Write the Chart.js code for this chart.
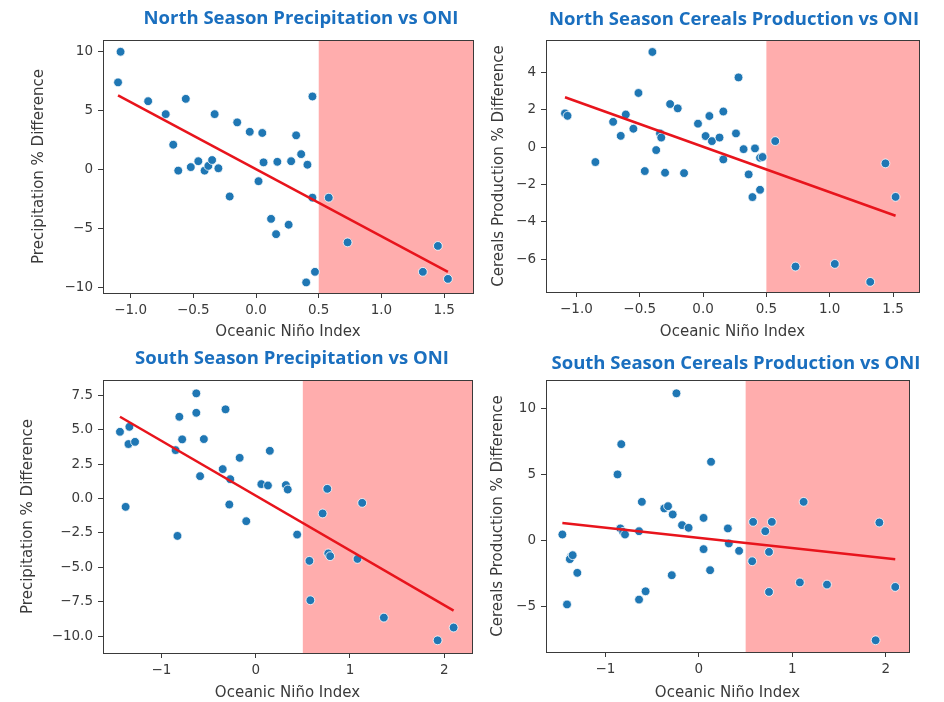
<!DOCTYPE html>
<html>
<head>
<meta charset="utf-8">
<script src="https://cdn.jsdelivr.net/npm/chart.js@4"></script>
<style>
  html, body { margin: 0; padding: 0; background: #ffffff; }
  #wrap { position: relative; width: 944px; height: 702px; overflow: hidden; background: #fff; }
  canvas.panel { position: absolute; left: 0; top: 0; }
  .ttl { position: absolute; transform: translate(-50%, -50%); white-space: nowrap;
         font-family: "Open Sans", sans-serif; font-weight: 700; font-size: 18.5px; color: #1a6fbf; }
</style>
</head>
<body>
<div id="wrap">
  <canvas id="c1" class="panel" width="944" height="702"></canvas>
  <canvas id="c2" class="panel" width="944" height="702"></canvas>
  <canvas id="c3" class="panel" width="944" height="702"></canvas>
  <canvas id="c4" class="panel" width="944" height="702"></canvas>
  <div class="ttl" style="left:301px; top:16px;">North Season Precipitation vs ONI</div>
  <div class="ttl" style="left:734px; top:17px;">North Season Cereals Production vs ONI</div>
  <div class="ttl" style="left:292px; top:356px;">South Season Precipitation vs ONI</div>
  <div class="ttl" style="left:736px; top:361px;">South Season Cereals Production vs ONI</div>
</div>
<script>
// ---------------- DATA ----------------
const oniThreshold = 0.5;
const xAxisLabel = "Oceanic Niño Index";

// North season precipitation
const northPrecipOni = [-1.08, -1.10, -0.86, -0.72, -0.56, -0.66, -0.62, -0.52, -0.46, -0.41, -0.38, -0.35, -0.30, -0.33, -0.21, -0.15, -0.05, 0.05, 0.02, 0.06, 0.17, 0.28, 0.32, 0.36, 0.41, 0.45, 0.45, 0.58, 0.12, 0.16, 0.26, 0.40, 0.47, 0.73, 1.33, 1.45, 1.53];
const northPrecip    = [10.0, 7.4, 5.8, 4.7, 6.0, 2.1, -0.1, 0.2, 0.7, -0.1, 0.3, 0.8, 0.1, 4.7, -2.3, 4.0, 3.2, 3.1, -1.0, 0.6, 0.65, 0.7, 2.9, 1.3, 0.4, 6.2, -2.4, -2.4, -4.2, -5.5, -4.7, -9.6, -8.7, -6.2, -8.7, -6.5, -9.3];
const northPrecipFitX = [-1.10, 1.53];
const northPrecipFitY = [6.3, -8.7];

// North season cereals production
const northCerealsOni = [-1.09, -1.07, -0.85, -0.71, -0.65, -0.61, -0.55, -0.51, -0.46, -0.40, -0.37, -0.34, -0.33, -0.30, -0.26, -0.20, -0.15, -0.04, 0.02, 0.05, 0.07, 0.13, 0.16, 0.16, 0.26, 0.28, 0.32, 0.36, 0.41, 0.39, 0.45, 0.45, 0.47, 0.57, 0.73, 1.04, 1.32, 1.44, 1.52];
const northCereals    = [1.8, 1.67, -0.8, 1.35, 0.6, 1.74, 0.98, 2.89, -1.28, 5.08, -0.16, 0.73, 0.51, -1.37, 2.3, 2.07, -1.39, 1.25, 0.59, 1.66, 0.32, 0.51, 1.9, -0.66, 0.73, 3.72, -0.11, -1.46, -0.07, -2.67, -2.28, -0.57, -0.53, 0.32, -6.38, -6.24, -7.2, -0.87, -2.66];
const northCerealsFitX = [-1.09, 1.52];
const northCerealsFitY = [2.66, -3.67];

// South season precipitation
const southPrecipOni = [-1.44, -1.34, -1.35, -1.28, -1.38, -0.85, -0.81, -0.78, -0.83, -0.63, -0.63, -0.59, -0.55, -0.35, -0.32, -0.27, -0.28, -0.17, -0.10, 0.06, 0.13, 0.15, 0.32, 0.34, 0.44, 0.57, 0.58, 0.71, 0.76, 0.77, 0.79, 1.08, 1.13, 1.36, 1.93, 2.10];
const southPrecip    = [4.84, 5.2, 3.95, 4.11, -0.61, 3.51, 5.93, 4.29, -2.72, 7.63, 6.22, 1.62, 4.31, 2.13, 6.47, 1.4, -0.44, 2.95, -1.65, 1.04, 0.94, 3.46, 0.97, 0.65, -2.62, -4.53, -7.39, -1.09, 0.7, -3.99, -4.19, -4.39, -0.32, -8.65, -10.3, -9.37];
const southPrecipFitX = [-1.44, 2.10];
const southPrecipFitY = [5.93, -8.14];

// South season cereals production
const southCerealsOni = [-1.46, -1.41, -1.37, -1.38, -1.35, -1.30, -0.87, -0.83, -0.84, -0.81, -0.79, -0.64, -0.61, -0.64, -0.57, -0.37, -0.33, -0.28, -0.24, -0.29, -0.18, -0.11, 0.05, 0.05, 0.12, 0.13, 0.31, 0.32, 0.43, 0.57, 0.58, 0.71, 0.75, 0.75, 0.78, 1.08, 1.12, 1.37, 1.89, 1.93, 2.10];
const southCereals    = [0.43, -4.88, -1.27, -1.44, -1.14, -2.48, 4.99, 7.29, 0.89, 0.63, 0.43, 0.68, 2.91, -4.51, -3.88, 2.41, 2.58, 1.95, 11.15, -2.66, 1.14, 0.94, 1.69, -0.68, -2.28, 5.95, 0.89, -0.25, -0.81, -1.6, 1.39, 0.68, -0.89, -3.93, 1.39, -3.21, 2.91, -3.37, -7.6, 1.34, -3.55];
const southCerealsFitX = [-1.46, 2.10];
const southCerealsFitY = [1.31, -1.44];

// Tick values and labels
const northXTicks = [-1.0, -0.5, 0.0, 0.5, 1.0, 1.5];
const northXTickLabels = ["\u22121.0", "\u22120.5", "0.0", "0.5", "1.0", "1.5"];
const southXTicks = [-1, 0, 1, 2];
const southXTickLabels = ["\u22121", "0", "1", "2"];
const northPrecipYTicks = [-10, -5, 0, 5, 10];
const northPrecipYTickLabels = ["\u221210", "\u22125", "0", "5", "10"];
const northCerealsYTicks = [-6, -4, -2, 0, 2, 4];
const northCerealsYTickLabels = ["\u22126", "\u22124", "\u22122", "0", "2", "4"];
const southPrecipYTicks = [-10, -7.5, -5, -2.5, 0, 2.5, 5, 7.5];
const southPrecipYTickLabels = ["\u221210.0", "\u22127.5", "\u22125.0", "\u22122.5", "0.0", "2.5", "5.0", "7.5"];
const southCerealsYTicks = [-5, 0, 5, 10];
const southCerealsYTickLabels = ["\u22125", "0", "5", "10"];

// ---------------- DRAWING ----------------
const W = 944, H = 702;
const TICK_FONT = { family: "DejaVu Sans", size: 13.5 };
const TITLE_FONT = { family: "DejaVu Sans", size: 15, lineHeight: 1.2 };
const TEXT_COLOR = "#3a3a3a";

const shadePlugin = {
  id: "shade",
  beforeDatasetsDraw(chart) {
    const { ctx, chartArea, scales } = chart;
    const x0 = scales.x.getPixelForValue(oniThreshold);
    ctx.save();
    ctx.fillStyle = "rgba(255,0,0,0.32)";
    ctx.fillRect(x0, chartArea.top, chartArea.right - x0, chartArea.bottom - chartArea.top);
    ctx.restore();
  },
  afterDraw(chart) {
    const { ctx, chartArea } = chart;
    ctx.save();
    ctx.strokeStyle = "#3a3a3a";
    ctx.lineWidth = 1;
    ctx.strokeRect(Math.round(chartArea.left) + 0.5, Math.round(chartArea.top) + 0.5,
                   Math.round(chartArea.right - chartArea.left), Math.round(chartArea.bottom - chartArea.top));
    ctx.restore();
  }
};

function makePanel(id, cfg) {
  const scaleLeft = cfg.yLabelX - 9;
  const yW = cfg.L - scaleLeft;
  const xBottom = cfg.xLabelY + 9;
  const xH = xBottom - cfg.B;
  const pts = cfg.xs.map((x, i) => ({ x: x, y: cfg.ys[i] }));
  const fit = cfg.fitX.map((x, i) => ({ x: x, y: cfg.fitY[i] }));
  new Chart(document.getElementById(id), {
    type: "scatter",
    data: {
      datasets: [
        { type: "line", data: fit, borderColor: "#e8141c", borderWidth: 2.5, pointRadius: 0, fill: false, showLine: true },
        { data: pts, backgroundColor: "#1f77b4", borderColor: "#ffffff", borderWidth: 0.8, pointRadius: 4.4, pointHoverRadius: 4.4 }
      ]
    },
    options: {
      responsive: false,
      animation: false,
      events: [],
      plugins: { legend: { display: false }, tooltip: { enabled: false } },
      layout: { padding: { left: scaleLeft, top: cfg.T, right: W - cfg.R, bottom: H - xBottom } },
      scales: {
        x: {
          type: "linear", min: cfg.xMin, max: cfg.xMax,
          afterBuildTicks: s => { s.ticks = cfg.xTicks.map(v => ({ value: v })); },
          afterFit: s => { s.height = xH; },
          ticks: { callback: (v, i) => cfg.xTickLabels[i], font: TICK_FONT, color: TEXT_COLOR, padding: 4, maxRotation: 0, autoSkip: false },
          grid: { drawOnChartArea: false, drawTicks: true, tickLength: 5, tickColor: "#3a3a3a", tickWidth: 1 },
          border: { display: false },
          title: { display: true, text: xAxisLabel, font: TITLE_FONT, color: TEXT_COLOR, padding: 0 }
        },
        y: {
          type: "linear", min: cfg.yMin, max: cfg.yMax,
          afterBuildTicks: s => { s.ticks = cfg.yTicks.map(v => ({ value: v })); },
          afterFit: s => { s.width = yW; },
          ticks: { callback: (v, i) => cfg.yTickLabels[i], font: TICK_FONT, color: TEXT_COLOR, padding: 5, autoSkip: false },
          grid: { drawOnChartArea: false, drawTicks: true, tickLength: 5, tickColor: "#3a3a3a", tickWidth: 1 },
          border: { display: false },
          title: { display: true, text: cfg.yLabel, font: TITLE_FONT, color: TEXT_COLOR, padding: 0 }
        }
      }
    },
    plugins: [shadePlugin]
  });
}

makePanel("c1", {
  L: 103, T: 40, R: 473, B: 293, yLabelX: 39.5, xLabelY: 332,
  xMin: -1.22, xMax: 1.73, yMin: -10.5, yMax: 11.0,
  xs: northPrecipOni, ys: northPrecip, fitX: northPrecipFitX, fitY: northPrecipFitY,
  xTicks: northXTicks, xTickLabels: northXTickLabels,
  yTicks: northPrecipYTicks, yTickLabels: northPrecipYTickLabels,
  yLabel: "Precipitation % Difference"
});
makePanel("c2", {
  L: 546, T: 40, R: 919, B: 292, yLabelX: 499.5, xLabelY: 332,
  xMin: -1.24, xMax: 1.705, yMin: -7.74, yMax: 5.72,
  xs: northCerealsOni, ys: northCereals, fitX: northCerealsFitX, fitY: northCerealsFitY,
  xTicks: northXTicks, xTickLabels: northXTickLabels,
  yTicks: northCerealsYTicks, yTickLabels: northCerealsYTickLabels,
  yLabel: "Cereals Production % Difference"
});
makePanel("c3", {
  L: 103, T: 380, R: 472, B: 653, yLabelX: 28.5, xLabelY: 693,
  xMin: -1.62, xMax: 2.295, yMin: -11.22, yMax: 8.6,
  xs: southPrecipOni, ys: southPrecip, fitX: southPrecipFitX, fitY: southPrecipFitY,
  xTicks: southXTicks, xTickLabels: southXTickLabels,
  yTicks: southPrecipYTicks, yTickLabels: southPrecipYTickLabels,
  yLabel: "Precipitation % Difference"
});
makePanel("c4", {
  L: 546, T: 380, R: 909, B: 652, yLabelX: 498.5, xLabelY: 693,
  xMin: -1.635, xMax: 2.247, yMin: -8.49, yMax: 12.16,
  xs: southCerealsOni, ys: southCereals, fitX: southCerealsFitX, fitY: southCerealsFitY,
  xTicks: southXTicks, xTickLabels: southXTickLabels,
  yTicks: southCerealsYTicks, yTickLabels: southCerealsYTickLabels,
  yLabel: "Cereals Production % Difference"
});
</script>
</body>
</html>
